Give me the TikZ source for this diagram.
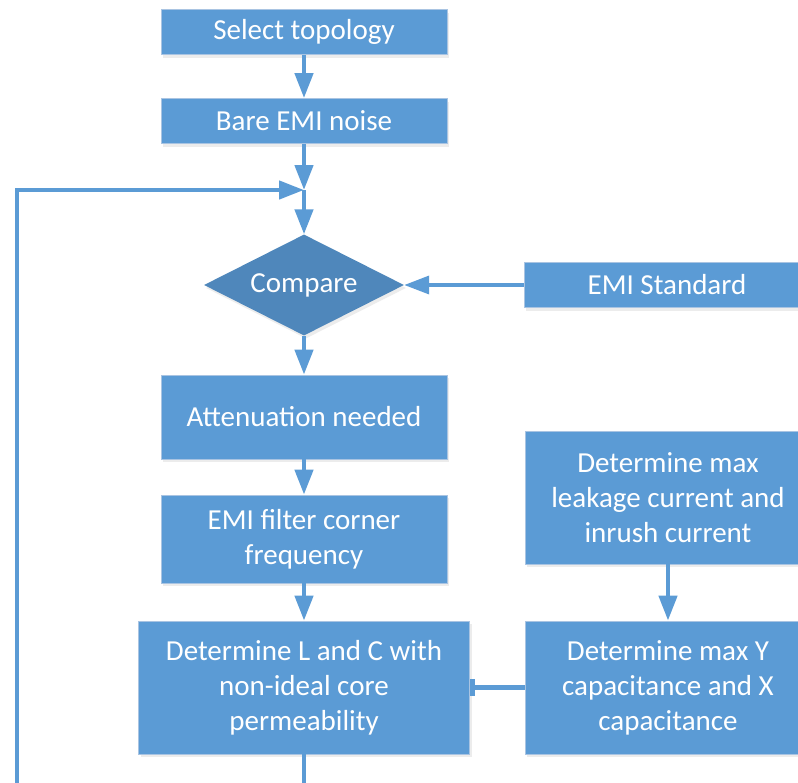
\documentclass[tikz,border=0pt]{standalone}
\usepackage{fontspec}
\setmainfont{Carlito}
\usetikzlibrary{shapes.geometric,arrows.meta,shadows}
\definecolor{boxblue}{HTML}{5B9BD5}
\definecolor{diablue}{HTML}{4F87BB}
\definecolor{edgeblue}{HTML}{A9C4E2}
\begin{document}
\begin{tikzpicture}[x=1pt,y=-1pt]
	\tikzstyle{Block} = [rectangle, minimum width=286pt, text centered, align=center, text=white, fill=boxblue, draw=edgeblue, line width=0.8pt, font=\fontsize{29}{35}\selectfont, drop shadow={opacity=0.15, shadow xshift=2pt, shadow yshift=-3pt}]
	\tikzstyle{Decision} = [diamond, aspect=2, minimum width=200pt, minimum height=101pt, inner sep=0pt, text=white, fill=diablue, font=\fontsize{29}{35}\selectfont, drop shadow={opacity=0.15, shadow xshift=2pt, shadow yshift=-3pt}]
	\tikzstyle{arrow} = [draw=boxblue, line width=4.5pt, -{Triangle[length=25pt, width=18pt]}]
	\tikzstyle{barline} = [draw=boxblue, line width=4.5pt, -{Rectangle[length=5pt, width=17pt]}]
	\tikzstyle{line} = [draw=boxblue, line width=4.5pt]
	
	\clip (0,0) rectangle (798,782);
	
	\node (sel) [Block, minimum height=45pt] at (304,32) {Select topology};
	\node (bare) [Block, minimum height=45pt] at (304,121) {Bare EMI noise};
	\coordinate (join) at (304,190);
	\node (cmp) [Decision] at (304,285) {Compare};
	\node (std) [Block, minimum height=45pt] at (667,285) {EMI Standard};
	\node (att) [Block, minimum height=84pt] at (304,417) {Attenuation needed};
	\node (corner) [Block, minimum height=88pt] at (304,539) {EMI filter corner\\frequency};
	\node (leak) [Block, minimum height=133pt] at (668,497.5) {Determine max\\leakage current and\\inrush current};
	\node (maxy) [Block, minimum height=133pt] at (668,687.5) {Determine max Y\\capacitance and X\\capacitance};
	\node (lc) [Block, minimum width=331pt, minimum height=133pt] at (304,687.5) {Determine L and C with\\non-ideal core\\permeability};
	\coordinate (lcout) at (304,800);
	\coordinate (loop) at (17,800);
	
	\draw [arrow] (sel) -- (bare);
	\draw [arrow] (bare) -- (join);
	\draw [arrow] (join) -- (cmp);
	\draw [arrow] (loop) |- (join);
	\draw [arrow, line width=3.5pt] (std) -- (cmp);
	\draw [arrow] (cmp) -- (att);
	\draw [arrow] (att) -- (corner);
	\draw [arrow] (corner) -- (lc);
	\draw [arrow] (leak) -- (maxy);
	\draw [barline] (maxy) -- (lc);
	\draw [line] (lc) -- (lcout);
\end{tikzpicture}
\end{document}
